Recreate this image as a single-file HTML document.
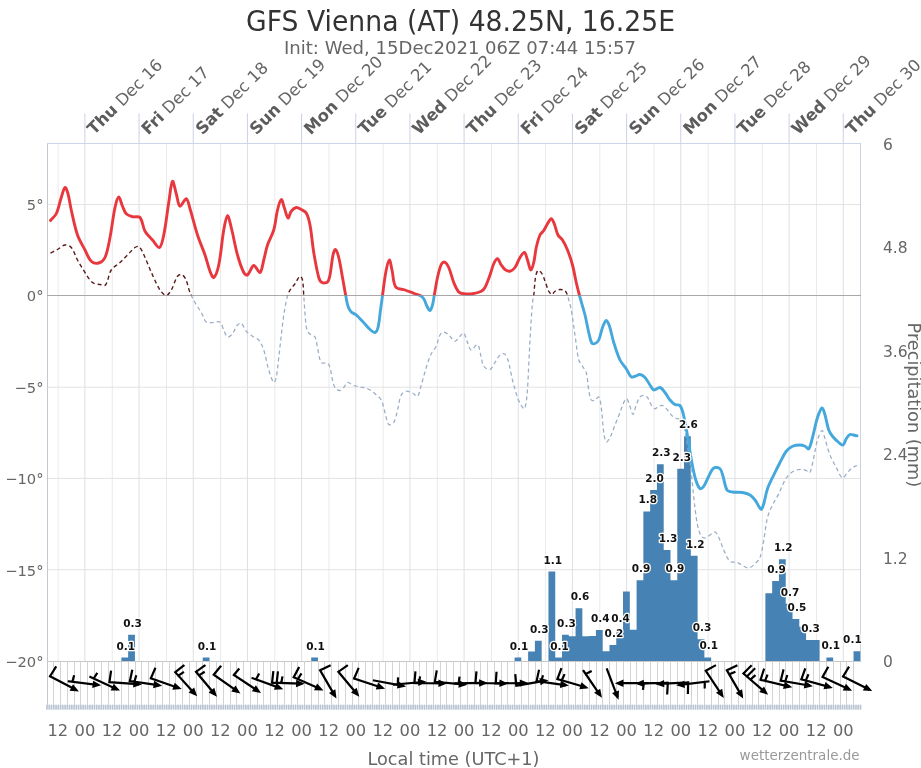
<!DOCTYPE html>
<html lang="en"><head><meta charset="utf-8"><title>GFS Vienna (AT) 48.25N, 16.25E</title>
<style>html,body{margin:0;padding:0;background:#fff}svg{display:block}text{font-family:"DejaVu Sans", "Liberation Sans", sans-serif}</style></head><body>
<svg width="921" height="768" viewBox="0 0 921 768">
<rect width="921" height="768" fill="#fff"/>
<defs><clipPath id="up"><rect x="0" y="0" width="921" height="295.50"/></clipPath><clipPath id="dn"><rect x="0" y="295.50" width="921" height="472.50"/></clipPath></defs>
<g><line x1="58.12" y1="143.5" x2="58.12" y2="661.0" stroke="#eaeaea"/><line x1="84.90" y1="143.5" x2="84.90" y2="661.0" stroke="#dcdfe5"/><line x1="84.90" y1="113.5" x2="84.90" y2="143.5" stroke="#c9d1e4"/><line x1="112.28" y1="143.5" x2="112.28" y2="661.0" stroke="#eaeaea"/><line x1="139.07" y1="143.5" x2="139.07" y2="661.0" stroke="#dcdfe5"/><line x1="139.07" y1="113.5" x2="139.07" y2="143.5" stroke="#c9d1e4"/><line x1="166.46" y1="143.5" x2="166.46" y2="661.0" stroke="#eaeaea"/><line x1="193.24" y1="143.5" x2="193.24" y2="661.0" stroke="#dcdfe5"/><line x1="193.24" y1="113.5" x2="193.24" y2="143.5" stroke="#c9d1e4"/><line x1="220.62" y1="143.5" x2="220.62" y2="661.0" stroke="#eaeaea"/><line x1="247.41" y1="143.5" x2="247.41" y2="661.0" stroke="#dcdfe5"/><line x1="247.41" y1="113.5" x2="247.41" y2="143.5" stroke="#c9d1e4"/><line x1="274.80" y1="143.5" x2="274.80" y2="661.0" stroke="#eaeaea"/><line x1="301.58" y1="143.5" x2="301.58" y2="661.0" stroke="#dcdfe5"/><line x1="301.58" y1="113.5" x2="301.58" y2="143.5" stroke="#c9d1e4"/><line x1="328.97" y1="143.5" x2="328.97" y2="661.0" stroke="#eaeaea"/><line x1="355.75" y1="143.5" x2="355.75" y2="661.0" stroke="#dcdfe5"/><line x1="355.75" y1="113.5" x2="355.75" y2="143.5" stroke="#c9d1e4"/><line x1="383.13" y1="143.5" x2="383.13" y2="661.0" stroke="#eaeaea"/><line x1="409.92" y1="143.5" x2="409.92" y2="661.0" stroke="#dcdfe5"/><line x1="409.92" y1="113.5" x2="409.92" y2="143.5" stroke="#c9d1e4"/><line x1="437.31" y1="143.5" x2="437.31" y2="661.0" stroke="#eaeaea"/><line x1="464.09" y1="143.5" x2="464.09" y2="661.0" stroke="#dcdfe5"/><line x1="464.09" y1="113.5" x2="464.09" y2="143.5" stroke="#c9d1e4"/><line x1="491.48" y1="143.5" x2="491.48" y2="661.0" stroke="#eaeaea"/><line x1="518.26" y1="143.5" x2="518.26" y2="661.0" stroke="#dcdfe5"/><line x1="518.26" y1="113.5" x2="518.26" y2="143.5" stroke="#c9d1e4"/><line x1="545.64" y1="143.5" x2="545.64" y2="661.0" stroke="#eaeaea"/><line x1="572.43" y1="143.5" x2="572.43" y2="661.0" stroke="#dcdfe5"/><line x1="572.43" y1="113.5" x2="572.43" y2="143.5" stroke="#c9d1e4"/><line x1="599.81" y1="143.5" x2="599.81" y2="661.0" stroke="#eaeaea"/><line x1="626.60" y1="143.5" x2="626.60" y2="661.0" stroke="#dcdfe5"/><line x1="626.60" y1="113.5" x2="626.60" y2="143.5" stroke="#c9d1e4"/><line x1="653.98" y1="143.5" x2="653.98" y2="661.0" stroke="#eaeaea"/><line x1="680.77" y1="143.5" x2="680.77" y2="661.0" stroke="#dcdfe5"/><line x1="680.77" y1="113.5" x2="680.77" y2="143.5" stroke="#c9d1e4"/><line x1="708.15" y1="143.5" x2="708.15" y2="661.0" stroke="#eaeaea"/><line x1="734.94" y1="143.5" x2="734.94" y2="661.0" stroke="#dcdfe5"/><line x1="734.94" y1="113.5" x2="734.94" y2="143.5" stroke="#c9d1e4"/><line x1="762.32" y1="143.5" x2="762.32" y2="661.0" stroke="#eaeaea"/><line x1="789.11" y1="143.5" x2="789.11" y2="661.0" stroke="#dcdfe5"/><line x1="789.11" y1="113.5" x2="789.11" y2="143.5" stroke="#c9d1e4"/><line x1="816.49" y1="143.5" x2="816.49" y2="661.0" stroke="#eaeaea"/><line x1="843.28" y1="143.5" x2="843.28" y2="661.0" stroke="#dcdfe5"/><line x1="843.28" y1="113.5" x2="843.28" y2="143.5" stroke="#c9d1e4"/><line x1="47.0" y1="204.60" x2="860.5" y2="204.60" stroke="#e2e2e2"/><line x1="47.0" y1="387.20" x2="860.5" y2="387.20" stroke="#e2e2e2"/><line x1="47.0" y1="478.40" x2="860.5" y2="478.40" stroke="#e2e2e2"/><line x1="47.0" y1="569.70" x2="860.5" y2="569.70" stroke="#e2e2e2"/></g>
<g shape-rendering="crispEdges"><line x1="53.5" y1="661.0" x2="53.5" y2="704.5" stroke="#d4d4d4"/><line x1="60.5" y1="661.0" x2="60.5" y2="704.5" stroke="#d4d4d4"/><line x1="67.5" y1="661.0" x2="67.5" y2="704.5" stroke="#d4d4d4"/><line x1="74.5" y1="661.0" x2="74.5" y2="704.5" stroke="#d4d4d4"/><line x1="80.5" y1="661.0" x2="80.5" y2="704.5" stroke="#d4d4d4"/><line x1="87.5" y1="661.0" x2="87.5" y2="704.5" stroke="#d4d4d4"/><line x1="94.5" y1="661.0" x2="94.5" y2="704.5" stroke="#d4d4d4"/><line x1="101.5" y1="661.0" x2="101.5" y2="704.5" stroke="#d4d4d4"/><line x1="108.5" y1="661.0" x2="108.5" y2="704.5" stroke="#d4d4d4"/><line x1="114.5" y1="661.0" x2="114.5" y2="704.5" stroke="#d4d4d4"/><line x1="121.5" y1="661.0" x2="121.5" y2="704.5" stroke="#d4d4d4"/><line x1="128.5" y1="661.0" x2="128.5" y2="704.5" stroke="#d4d4d4"/><line x1="135.5" y1="661.0" x2="135.5" y2="704.5" stroke="#d4d4d4"/><line x1="141.5" y1="661.0" x2="141.5" y2="704.5" stroke="#d4d4d4"/><line x1="148.5" y1="661.0" x2="148.5" y2="704.5" stroke="#d4d4d4"/><line x1="155.5" y1="661.0" x2="155.5" y2="704.5" stroke="#d4d4d4"/><line x1="162.5" y1="661.0" x2="162.5" y2="704.5" stroke="#d4d4d4"/><line x1="169.5" y1="661.0" x2="169.5" y2="704.5" stroke="#d4d4d4"/><line x1="175.5" y1="661.0" x2="175.5" y2="704.5" stroke="#d4d4d4"/><line x1="182.5" y1="661.0" x2="182.5" y2="704.5" stroke="#d4d4d4"/><line x1="189.5" y1="661.0" x2="189.5" y2="704.5" stroke="#d4d4d4"/><line x1="196.5" y1="661.0" x2="196.5" y2="704.5" stroke="#d4d4d4"/><line x1="202.5" y1="661.0" x2="202.5" y2="704.5" stroke="#d4d4d4"/><line x1="209.5" y1="661.0" x2="209.5" y2="704.5" stroke="#d4d4d4"/><line x1="216.5" y1="661.0" x2="216.5" y2="704.5" stroke="#d4d4d4"/><line x1="223.5" y1="661.0" x2="223.5" y2="704.5" stroke="#d4d4d4"/><line x1="230.5" y1="661.0" x2="230.5" y2="704.5" stroke="#d4d4d4"/><line x1="236.5" y1="661.0" x2="236.5" y2="704.5" stroke="#d4d4d4"/><line x1="243.5" y1="661.0" x2="243.5" y2="704.5" stroke="#d4d4d4"/><line x1="250.5" y1="661.0" x2="250.5" y2="704.5" stroke="#d4d4d4"/><line x1="257.5" y1="661.0" x2="257.5" y2="704.5" stroke="#d4d4d4"/><line x1="263.5" y1="661.0" x2="263.5" y2="704.5" stroke="#d4d4d4"/><line x1="270.5" y1="661.0" x2="270.5" y2="704.5" stroke="#d4d4d4"/><line x1="277.5" y1="661.0" x2="277.5" y2="704.5" stroke="#d4d4d4"/><line x1="284.5" y1="661.0" x2="284.5" y2="704.5" stroke="#d4d4d4"/><line x1="291.5" y1="661.0" x2="291.5" y2="704.5" stroke="#d4d4d4"/><line x1="297.5" y1="661.0" x2="297.5" y2="704.5" stroke="#d4d4d4"/><line x1="304.5" y1="661.0" x2="304.5" y2="704.5" stroke="#d4d4d4"/><line x1="311.5" y1="661.0" x2="311.5" y2="704.5" stroke="#d4d4d4"/><line x1="318.5" y1="661.0" x2="318.5" y2="704.5" stroke="#d4d4d4"/><line x1="324.5" y1="661.0" x2="324.5" y2="704.5" stroke="#d4d4d4"/><line x1="331.5" y1="661.0" x2="331.5" y2="704.5" stroke="#d4d4d4"/><line x1="338.5" y1="661.0" x2="338.5" y2="704.5" stroke="#d4d4d4"/><line x1="345.5" y1="661.0" x2="345.5" y2="704.5" stroke="#d4d4d4"/><line x1="352.5" y1="661.0" x2="352.5" y2="704.5" stroke="#d4d4d4"/><line x1="358.5" y1="661.0" x2="358.5" y2="704.5" stroke="#d4d4d4"/><line x1="365.5" y1="661.0" x2="365.5" y2="704.5" stroke="#d4d4d4"/><line x1="372.5" y1="661.0" x2="372.5" y2="704.5" stroke="#d4d4d4"/><line x1="379.5" y1="661.0" x2="379.5" y2="704.5" stroke="#d4d4d4"/><line x1="385.5" y1="661.0" x2="385.5" y2="704.5" stroke="#d4d4d4"/><line x1="392.5" y1="661.0" x2="392.5" y2="704.5" stroke="#d4d4d4"/><line x1="399.5" y1="661.0" x2="399.5" y2="704.5" stroke="#d4d4d4"/><line x1="406.5" y1="661.0" x2="406.5" y2="704.5" stroke="#d4d4d4"/><line x1="413.5" y1="661.0" x2="413.5" y2="704.5" stroke="#d4d4d4"/><line x1="419.5" y1="661.0" x2="419.5" y2="704.5" stroke="#d4d4d4"/><line x1="426.5" y1="661.0" x2="426.5" y2="704.5" stroke="#d4d4d4"/><line x1="433.5" y1="661.0" x2="433.5" y2="704.5" stroke="#d4d4d4"/><line x1="440.5" y1="661.0" x2="440.5" y2="704.5" stroke="#d4d4d4"/><line x1="446.5" y1="661.0" x2="446.5" y2="704.5" stroke="#d4d4d4"/><line x1="453.5" y1="661.0" x2="453.5" y2="704.5" stroke="#d4d4d4"/><line x1="460.5" y1="661.0" x2="460.5" y2="704.5" stroke="#d4d4d4"/><line x1="467.5" y1="661.0" x2="467.5" y2="704.5" stroke="#d4d4d4"/><line x1="474.5" y1="661.0" x2="474.5" y2="704.5" stroke="#d4d4d4"/><line x1="480.5" y1="661.0" x2="480.5" y2="704.5" stroke="#d4d4d4"/><line x1="487.5" y1="661.0" x2="487.5" y2="704.5" stroke="#d4d4d4"/><line x1="494.5" y1="661.0" x2="494.5" y2="704.5" stroke="#d4d4d4"/><line x1="501.5" y1="661.0" x2="501.5" y2="704.5" stroke="#d4d4d4"/><line x1="507.5" y1="661.0" x2="507.5" y2="704.5" stroke="#d4d4d4"/><line x1="514.5" y1="661.0" x2="514.5" y2="704.5" stroke="#d4d4d4"/><line x1="521.5" y1="661.0" x2="521.5" y2="704.5" stroke="#d4d4d4"/><line x1="528.5" y1="661.0" x2="528.5" y2="704.5" stroke="#d4d4d4"/><line x1="535.5" y1="661.0" x2="535.5" y2="704.5" stroke="#d4d4d4"/><line x1="541.5" y1="661.0" x2="541.5" y2="704.5" stroke="#d4d4d4"/><line x1="548.5" y1="661.0" x2="548.5" y2="704.5" stroke="#d4d4d4"/><line x1="555.5" y1="661.0" x2="555.5" y2="704.5" stroke="#d4d4d4"/><line x1="562.5" y1="661.0" x2="562.5" y2="704.5" stroke="#d4d4d4"/><line x1="568.5" y1="661.0" x2="568.5" y2="704.5" stroke="#d4d4d4"/><line x1="575.5" y1="661.0" x2="575.5" y2="704.5" stroke="#d4d4d4"/><line x1="582.5" y1="661.0" x2="582.5" y2="704.5" stroke="#d4d4d4"/><line x1="589.5" y1="661.0" x2="589.5" y2="704.5" stroke="#d4d4d4"/><line x1="596.5" y1="661.0" x2="596.5" y2="704.5" stroke="#d4d4d4"/><line x1="602.5" y1="661.0" x2="602.5" y2="704.5" stroke="#d4d4d4"/><line x1="609.5" y1="661.0" x2="609.5" y2="704.5" stroke="#d4d4d4"/><line x1="616.5" y1="661.0" x2="616.5" y2="704.5" stroke="#d4d4d4"/><line x1="623.5" y1="661.0" x2="623.5" y2="704.5" stroke="#d4d4d4"/><line x1="630.5" y1="661.0" x2="630.5" y2="704.5" stroke="#d4d4d4"/><line x1="636.5" y1="661.0" x2="636.5" y2="704.5" stroke="#d4d4d4"/><line x1="643.5" y1="661.0" x2="643.5" y2="704.5" stroke="#d4d4d4"/><line x1="650.5" y1="661.0" x2="650.5" y2="704.5" stroke="#d4d4d4"/><line x1="657.5" y1="661.0" x2="657.5" y2="704.5" stroke="#d4d4d4"/><line x1="663.5" y1="661.0" x2="663.5" y2="704.5" stroke="#d4d4d4"/><line x1="670.5" y1="661.0" x2="670.5" y2="704.5" stroke="#d4d4d4"/><line x1="677.5" y1="661.0" x2="677.5" y2="704.5" stroke="#d4d4d4"/><line x1="684.5" y1="661.0" x2="684.5" y2="704.5" stroke="#d4d4d4"/><line x1="691.5" y1="661.0" x2="691.5" y2="704.5" stroke="#d4d4d4"/><line x1="697.5" y1="661.0" x2="697.5" y2="704.5" stroke="#d4d4d4"/><line x1="704.5" y1="661.0" x2="704.5" y2="704.5" stroke="#d4d4d4"/><line x1="711.5" y1="661.0" x2="711.5" y2="704.5" stroke="#d4d4d4"/><line x1="718.5" y1="661.0" x2="718.5" y2="704.5" stroke="#d4d4d4"/><line x1="724.5" y1="661.0" x2="724.5" y2="704.5" stroke="#d4d4d4"/><line x1="731.5" y1="661.0" x2="731.5" y2="704.5" stroke="#d4d4d4"/><line x1="738.5" y1="661.0" x2="738.5" y2="704.5" stroke="#d4d4d4"/><line x1="745.5" y1="661.0" x2="745.5" y2="704.5" stroke="#d4d4d4"/><line x1="752.5" y1="661.0" x2="752.5" y2="704.5" stroke="#d4d4d4"/><line x1="758.5" y1="661.0" x2="758.5" y2="704.5" stroke="#d4d4d4"/><line x1="765.5" y1="661.0" x2="765.5" y2="704.5" stroke="#d4d4d4"/><line x1="772.5" y1="661.0" x2="772.5" y2="704.5" stroke="#d4d4d4"/><line x1="779.5" y1="661.0" x2="779.5" y2="704.5" stroke="#d4d4d4"/><line x1="785.5" y1="661.0" x2="785.5" y2="704.5" stroke="#d4d4d4"/><line x1="792.5" y1="661.0" x2="792.5" y2="704.5" stroke="#d4d4d4"/><line x1="799.5" y1="661.0" x2="799.5" y2="704.5" stroke="#d4d4d4"/><line x1="806.5" y1="661.0" x2="806.5" y2="704.5" stroke="#d4d4d4"/><line x1="813.5" y1="661.0" x2="813.5" y2="704.5" stroke="#d4d4d4"/><line x1="819.5" y1="661.0" x2="819.5" y2="704.5" stroke="#d4d4d4"/><line x1="826.5" y1="661.0" x2="826.5" y2="704.5" stroke="#d4d4d4"/><line x1="833.5" y1="661.0" x2="833.5" y2="704.5" stroke="#d4d4d4"/><line x1="840.5" y1="661.0" x2="840.5" y2="704.5" stroke="#d4d4d4"/><line x1="846.5" y1="661.0" x2="846.5" y2="704.5" stroke="#d4d4d4"/><line x1="853.5" y1="661.0" x2="853.5" y2="704.5" stroke="#d4d4d4"/></g>
<path d="M47.00,705.3v3.7M49.26,705.3v3.7M51.52,705.3v3.7M53.78,705.3v3.7M56.04,705.3v3.7M58.30,705.3v3.7M60.56,705.3v3.7M62.82,705.3v3.7M65.08,705.3v3.7M67.34,705.3v3.7M69.60,705.3v3.7M71.86,705.3v3.7M74.12,705.3v3.7M76.38,705.3v3.7M78.64,705.3v3.7M80.90,705.3v3.7M83.16,705.3v3.7M85.42,705.3v3.7M87.68,705.3v3.7M89.93,705.3v3.7M92.19,705.3v3.7M94.45,705.3v3.7M96.71,705.3v3.7M98.97,705.3v3.7M101.23,705.3v3.7M103.49,705.3v3.7M105.75,705.3v3.7M108.01,705.3v3.7M110.27,705.3v3.7M112.53,705.3v3.7M114.79,705.3v3.7M117.05,705.3v3.7M119.31,705.3v3.7M121.57,705.3v3.7M123.83,705.3v3.7M126.09,705.3v3.7M128.35,705.3v3.7M130.61,705.3v3.7M132.87,705.3v3.7M135.13,705.3v3.7M137.39,705.3v3.7M139.65,705.3v3.7M141.91,705.3v3.7M144.17,705.3v3.7M146.43,705.3v3.7M148.69,705.3v3.7M150.95,705.3v3.7M153.21,705.3v3.7M155.47,705.3v3.7M157.73,705.3v3.7M159.99,705.3v3.7M162.25,705.3v3.7M164.51,705.3v3.7M166.77,705.3v3.7M169.03,705.3v3.7M171.28,705.3v3.7M173.54,705.3v3.7M175.80,705.3v3.7M178.06,705.3v3.7M180.32,705.3v3.7M182.58,705.3v3.7M184.84,705.3v3.7M187.10,705.3v3.7M189.36,705.3v3.7M191.62,705.3v3.7M193.88,705.3v3.7M196.14,705.3v3.7M198.40,705.3v3.7M200.66,705.3v3.7M202.92,705.3v3.7M205.18,705.3v3.7M207.44,705.3v3.7M209.70,705.3v3.7M211.96,705.3v3.7M214.22,705.3v3.7M216.48,705.3v3.7M218.74,705.3v3.7M221.00,705.3v3.7M223.26,705.3v3.7M225.52,705.3v3.7M227.78,705.3v3.7M230.04,705.3v3.7M232.30,705.3v3.7M234.56,705.3v3.7M236.82,705.3v3.7M239.08,705.3v3.7M241.34,705.3v3.7M243.60,705.3v3.7M245.86,705.3v3.7M248.12,705.3v3.7M250.38,705.3v3.7M252.63,705.3v3.7M254.89,705.3v3.7M257.15,705.3v3.7M259.41,705.3v3.7M261.67,705.3v3.7M263.93,705.3v3.7M266.19,705.3v3.7M268.45,705.3v3.7M270.71,705.3v3.7M272.97,705.3v3.7M275.23,705.3v3.7M277.49,705.3v3.7M279.75,705.3v3.7M282.01,705.3v3.7M284.27,705.3v3.7M286.53,705.3v3.7M288.79,705.3v3.7M291.05,705.3v3.7M293.31,705.3v3.7M295.57,705.3v3.7M297.83,705.3v3.7M300.09,705.3v3.7M302.35,705.3v3.7M304.61,705.3v3.7M306.87,705.3v3.7M309.13,705.3v3.7M311.39,705.3v3.7M313.65,705.3v3.7M315.91,705.3v3.7M318.17,705.3v3.7M320.43,705.3v3.7M322.69,705.3v3.7M324.95,705.3v3.7M327.21,705.3v3.7M329.47,705.3v3.7M331.73,705.3v3.7M333.98,705.3v3.7M336.24,705.3v3.7M338.50,705.3v3.7M340.76,705.3v3.7M343.02,705.3v3.7M345.28,705.3v3.7M347.54,705.3v3.7M349.80,705.3v3.7M352.06,705.3v3.7M354.32,705.3v3.7M356.58,705.3v3.7M358.84,705.3v3.7M361.10,705.3v3.7M363.36,705.3v3.7M365.62,705.3v3.7M367.88,705.3v3.7M370.14,705.3v3.7M372.40,705.3v3.7M374.66,705.3v3.7M376.92,705.3v3.7M379.18,705.3v3.7M381.44,705.3v3.7M383.70,705.3v3.7M385.96,705.3v3.7M388.22,705.3v3.7M390.48,705.3v3.7M392.74,705.3v3.7M395.00,705.3v3.7M397.26,705.3v3.7M399.52,705.3v3.7M401.78,705.3v3.7M404.04,705.3v3.7M406.30,705.3v3.7M408.56,705.3v3.7M410.82,705.3v3.7M413.08,705.3v3.7M415.33,705.3v3.7M417.59,705.3v3.7M419.85,705.3v3.7M422.11,705.3v3.7M424.37,705.3v3.7M426.63,705.3v3.7M428.89,705.3v3.7M431.15,705.3v3.7M433.41,705.3v3.7M435.67,705.3v3.7M437.93,705.3v3.7M440.19,705.3v3.7M442.45,705.3v3.7M444.71,705.3v3.7M446.97,705.3v3.7M449.23,705.3v3.7M451.49,705.3v3.7M453.75,705.3v3.7M456.01,705.3v3.7M458.27,705.3v3.7M460.53,705.3v3.7M462.79,705.3v3.7M465.05,705.3v3.7M467.31,705.3v3.7M469.57,705.3v3.7M471.83,705.3v3.7M474.09,705.3v3.7M476.35,705.3v3.7M478.61,705.3v3.7M480.87,705.3v3.7M483.13,705.3v3.7M485.39,705.3v3.7M487.65,705.3v3.7M489.91,705.3v3.7M492.17,705.3v3.7M494.43,705.3v3.7M496.68,705.3v3.7M498.94,705.3v3.7M501.20,705.3v3.7M503.46,705.3v3.7M505.72,705.3v3.7M507.98,705.3v3.7M510.24,705.3v3.7M512.50,705.3v3.7M514.76,705.3v3.7M517.02,705.3v3.7M519.28,705.3v3.7M521.54,705.3v3.7M523.80,705.3v3.7M526.06,705.3v3.7M528.32,705.3v3.7M530.58,705.3v3.7M532.84,705.3v3.7M535.10,705.3v3.7M537.36,705.3v3.7M539.62,705.3v3.7M541.88,705.3v3.7M544.14,705.3v3.7M546.40,705.3v3.7M548.66,705.3v3.7M550.92,705.3v3.7M553.18,705.3v3.7M555.44,705.3v3.7M557.70,705.3v3.7M559.96,705.3v3.7M562.22,705.3v3.7M564.48,705.3v3.7M566.74,705.3v3.7M569.00,705.3v3.7M571.26,705.3v3.7M573.52,705.3v3.7M575.78,705.3v3.7M578.03,705.3v3.7M580.29,705.3v3.7M582.55,705.3v3.7M584.81,705.3v3.7M587.07,705.3v3.7M589.33,705.3v3.7M591.59,705.3v3.7M593.85,705.3v3.7M596.11,705.3v3.7M598.37,705.3v3.7M600.63,705.3v3.7M602.89,705.3v3.7M605.15,705.3v3.7M607.41,705.3v3.7M609.67,705.3v3.7M611.93,705.3v3.7M614.19,705.3v3.7M616.45,705.3v3.7M618.71,705.3v3.7M620.97,705.3v3.7M623.23,705.3v3.7M625.49,705.3v3.7M627.75,705.3v3.7M630.01,705.3v3.7M632.27,705.3v3.7M634.53,705.3v3.7M636.79,705.3v3.7M639.05,705.3v3.7M641.31,705.3v3.7M643.57,705.3v3.7M645.83,705.3v3.7M648.09,705.3v3.7M650.35,705.3v3.7M652.61,705.3v3.7M654.87,705.3v3.7M657.12,705.3v3.7M659.38,705.3v3.7M661.64,705.3v3.7M663.90,705.3v3.7M666.16,705.3v3.7M668.42,705.3v3.7M670.68,705.3v3.7M672.94,705.3v3.7M675.20,705.3v3.7M677.46,705.3v3.7M679.72,705.3v3.7M681.98,705.3v3.7M684.24,705.3v3.7M686.50,705.3v3.7M688.76,705.3v3.7M691.02,705.3v3.7M693.28,705.3v3.7M695.54,705.3v3.7M697.80,705.3v3.7M700.06,705.3v3.7M702.32,705.3v3.7M704.58,705.3v3.7M706.84,705.3v3.7M709.10,705.3v3.7M711.36,705.3v3.7M713.62,705.3v3.7M715.88,705.3v3.7M718.14,705.3v3.7M720.40,705.3v3.7M722.66,705.3v3.7M724.92,705.3v3.7M727.18,705.3v3.7M729.44,705.3v3.7M731.70,705.3v3.7M733.96,705.3v3.7M736.22,705.3v3.7M738.48,705.3v3.7M740.73,705.3v3.7M742.99,705.3v3.7M745.25,705.3v3.7M747.51,705.3v3.7M749.77,705.3v3.7M752.03,705.3v3.7M754.29,705.3v3.7M756.55,705.3v3.7M758.81,705.3v3.7M761.07,705.3v3.7M763.33,705.3v3.7M765.59,705.3v3.7M767.85,705.3v3.7M770.11,705.3v3.7M772.37,705.3v3.7M774.63,705.3v3.7M776.89,705.3v3.7M779.15,705.3v3.7M781.41,705.3v3.7M783.67,705.3v3.7M785.93,705.3v3.7M788.19,705.3v3.7M790.45,705.3v3.7M792.71,705.3v3.7M794.97,705.3v3.7M797.23,705.3v3.7M799.49,705.3v3.7M801.75,705.3v3.7M804.01,705.3v3.7M806.27,705.3v3.7M808.53,705.3v3.7M810.79,705.3v3.7M813.05,705.3v3.7M815.31,705.3v3.7M817.57,705.3v3.7M819.83,705.3v3.7M822.08,705.3v3.7M824.34,705.3v3.7M826.60,705.3v3.7M828.86,705.3v3.7M831.12,705.3v3.7M833.38,705.3v3.7M835.64,705.3v3.7M837.90,705.3v3.7M840.16,705.3v3.7M842.42,705.3v3.7M844.68,705.3v3.7M846.94,705.3v3.7M849.20,705.3v3.7M851.46,705.3v3.7M853.72,705.3v3.7M855.98,705.3v3.7M858.24,705.3v3.7M860.50,705.3v3.7" stroke="#bac5d3" stroke-width="1.7" stroke-linecap="round" fill="none"/>
<g shape-rendering="crispEdges" fill="none">
<line x1="47.0" y1="143.5" x2="860.5" y2="143.5" stroke="#ccd6eb"/>
<line x1="47.0" y1="661.0" x2="860.5" y2="661.0" stroke="#c8c8c8"/>
<line x1="47.5" y1="143.5" x2="47.5" y2="704.5" stroke="#c4c8d0"/>
<line x1="860.5" y1="143.5" x2="860.5" y2="661.0" stroke="#ccd2dc"/>
<line x1="47.0" y1="295.5" x2="860.5" y2="295.5" stroke="#a8a8a8"/>
</g>
<path d="M121.37,661.0V657.60H128.15V634.75H134.93V661.0ZM202.72,661.0V657.60H209.50V661.0ZM311.19,661.0V657.60H317.97V661.0ZM514.56,661.0V657.60H521.34V661.0ZM528.12,661.0V651.60H534.90V640.70H541.68V661.0ZM548.46,661.0V571.60H555.24V657.60H562.02V634.80H568.80V636.30H575.57V608.30H582.35V636.30H589.13V636.10H595.91V630.10H602.69V651.30H609.47V645.10H616.25V630.10H623.03V591.50H629.81V629.80H636.59V580.30H643.37V511.50H650.15V490.00H656.92V464.20H663.70V550.00H670.48V580.30H677.26V468.75H684.04V436.20H690.82V555.75H697.60V639.25H704.38V657.50H711.16V661.0ZM765.39,661.0V593.20H772.17V580.90H778.95V559.20H785.73V603.70H792.51V619.10H799.29V626.80H806.07V640.00H812.85V640.00H819.62V661.0ZM826.40,661.0V657.50H833.18V661.0ZM853.52,661.0V651.20H860.30V661.0Z" fill="#4682b4"/>
<path d="M50.50,253.00C52.83,251.83 55.22,250.76 57.50,249.50C60.05,248.09 62.41,245.38 65.00,245.00C66.99,244.71 69.90,245.87 71.25,247.50C74.06,250.87 75.26,255.92 77.50,260.00C79.84,264.25 82.31,268.46 85.00,272.50C87.31,275.96 89.42,280.03 92.50,282.50C94.42,284.03 97.47,284.01 100.00,284.50C101.80,284.85 104.54,286.24 105.50,285.00C108.29,281.40 108.44,274.37 111.25,270.00C113.27,266.87 117.18,265.10 120.00,262.50C122.60,260.10 125.00,257.50 127.50,255.00C130.00,252.50 132.22,249.45 135.00,247.50C136.13,246.70 138.38,245.88 139.25,246.75C141.71,249.21 143.28,253.82 145.00,257.50C147.69,263.24 149.84,269.24 152.50,275.00C154.84,280.07 156.94,285.43 160.00,290.00C161.52,292.27 164.27,295.50 166.25,295.50C168.02,295.50 170.01,292.12 171.25,290.00C173.76,285.70 174.88,280.31 177.50,276.25C178.22,275.14 180.16,274.16 181.25,274.50C182.83,274.99 184.64,276.99 185.50,278.75C187.56,282.99 188.21,288.03 190.00,292.50C191.38,295.95 193.17,299.26 195.00,302.50C196.92,305.92 199.29,309.10 201.25,312.50C203.04,315.60 203.88,319.90 206.25,322.00C207.63,323.23 210.42,322.50 212.50,322.50C215.00,322.50 218.28,320.85 220.00,322.00C222.03,323.35 222.43,327.37 223.75,330.00C224.93,332.37 225.83,336.29 227.50,337.00C228.75,337.54 231.26,335.24 232.50,333.75C234.59,331.24 235.43,327.48 237.50,325.00C238.35,323.98 240.36,322.61 241.25,323.25C243.28,324.70 244.22,328.91 246.25,331.25C247.97,333.24 250.32,334.72 252.50,336.25C254.49,337.64 257.27,338.19 258.75,340.00C261.02,342.77 262.58,346.48 263.75,350.00C265.91,356.48 266.73,363.45 268.75,370.00C270.07,374.28 271.98,380.73 273.75,382.50C274.48,383.23 275.89,379.31 276.25,377.50C277.55,370.98 277.96,364.17 278.75,357.50C280.04,346.67 281.15,335.82 282.50,325.00C283.23,319.15 283.89,313.28 285.00,307.50C285.97,302.45 286.78,297.17 288.75,292.50C290.12,289.25 292.96,286.70 295.00,283.75C296.71,281.28 298.33,277.08 300.00,276.25C300.83,275.83 302.22,278.56 302.50,280.00C303.47,284.97 303.35,290.33 303.75,295.50C304.44,304.50 304.81,313.54 305.75,322.50C306.06,325.45 306.35,328.64 307.50,331.25C308.18,332.80 309.86,333.94 311.25,335.00C312.36,335.85 314.41,335.82 315.00,337.00C316.49,339.99 316.64,344.01 317.50,347.50C318.73,352.51 318.88,358.77 321.25,362.50C322.21,364.02 325.86,362.32 327.50,363.25C328.78,363.98 329.54,365.94 330.00,367.50C331.20,371.53 331.47,375.89 332.50,380.00C333.14,382.55 333.61,385.42 335.00,387.50C335.95,388.92 338.01,390.50 339.50,390.50C340.93,390.50 342.54,388.71 343.75,387.50C345.21,386.04 345.92,382.82 347.50,382.50C349.25,382.15 351.59,384.72 353.75,385.50C355.75,386.22 357.91,386.51 360.00,387.00C362.50,387.59 365.20,387.71 367.50,388.75C370.20,389.96 372.69,391.86 375.00,393.75C377.27,395.61 379.90,397.48 381.25,400.00C383.24,403.73 383.73,408.34 385.00,412.50C386.23,416.51 386.71,422.17 388.75,424.50C389.62,425.50 392.90,423.91 393.75,422.50C395.81,419.08 396.36,414.20 397.50,410.00C398.86,405.03 399.17,399.45 401.25,395.00C402.09,393.20 404.41,391.58 406.25,391.25C408.16,390.91 410.55,392.13 412.50,393.00C414.30,393.80 416.52,397.14 417.50,396.25C419.44,394.48 420.10,388.78 421.25,385.00C423.02,379.20 424.40,373.27 426.25,367.50C427.74,362.86 429.19,358.13 431.25,353.75C432.52,351.05 434.99,348.95 436.25,346.25C437.91,342.70 438.22,338.38 440.00,335.00C440.72,333.63 442.43,332.00 443.75,332.00C445.35,332.00 447.26,333.77 448.75,335.00C451.01,336.86 452.92,341.02 455.00,341.25C456.67,341.44 458.29,337.87 460.00,336.25C461.20,335.12 462.93,332.32 463.75,333.00C465.43,334.40 466.13,339.39 467.50,342.50C468.63,345.05 469.58,349.67 471.25,350.00C472.91,350.33 476.23,343.55 477.50,344.50C479.56,346.05 480.00,353.17 481.25,357.50C482.09,360.42 482.11,364.00 483.75,366.25C485.02,368.00 488.31,370.06 490.00,369.50C492.06,368.81 493.37,364.86 495.00,362.50C496.71,360.03 497.93,356.96 500.00,355.00C501.02,354.04 503.24,353.12 504.25,353.75C505.91,354.79 507.28,357.70 508.00,360.00C510.03,366.45 510.82,373.38 512.50,380.00C513.99,385.88 515.54,391.78 517.50,397.50C518.45,400.28 519.72,403.03 521.25,405.50C522.05,406.78 524.03,409.62 524.50,408.75C525.94,406.12 526.55,399.63 527.00,395.00C527.97,385.05 528.20,375.00 528.75,365.00C529.20,356.67 529.50,348.33 530.00,340.00C530.75,327.50 531.45,314.97 532.50,302.50C532.70,300.14 533.47,297.85 533.75,295.50C534.47,289.52 534.50,283.41 535.50,277.50C535.91,275.07 536.72,271.24 538.00,270.50C538.89,269.99 541.12,272.34 542.00,273.75C543.62,276.34 544.37,279.57 545.50,282.50C546.62,285.40 547.30,288.57 548.75,291.25C549.46,292.57 550.94,294.50 552.00,294.50C553.02,294.50 553.79,292.01 555.00,291.25C556.45,290.34 558.31,289.58 560.00,289.50C561.64,289.42 563.78,289.77 565.00,290.75C566.28,291.77 566.95,293.81 567.50,295.50C569.03,300.22 570.32,305.10 571.25,310.00C572.82,318.27 573.75,326.67 575.00,335.00C576.25,343.33 576.81,351.91 578.75,360.00C579.31,362.33 581.25,364.17 582.50,366.25C583.75,368.33 585.64,370.19 586.25,372.50C587.73,378.11 587.70,384.21 588.75,390.00C589.36,393.38 589.72,397.56 591.25,400.00C591.81,400.89 593.90,400.44 595.00,400.00C596.40,399.44 598.11,396.23 598.75,397.00C600.19,398.73 600.75,403.94 601.25,407.50C602.42,415.78 602.55,424.23 603.75,432.50C604.22,435.73 604.94,440.96 606.25,442.00C607.03,442.62 609.12,439.22 610.00,437.50C612.03,433.55 613.33,429.17 615.00,425.00C616.67,420.83 618.37,416.68 620.00,412.50C621.29,409.18 622.20,405.66 623.75,402.50C624.45,401.08 625.96,398.41 626.75,398.75C627.88,399.24 628.65,402.89 629.50,405.00C630.73,408.06 631.87,414.25 633.00,414.25C634.12,414.25 635.02,408.02 636.25,405.00C637.36,402.27 638.28,399.17 640.00,397.00C640.78,396.01 642.53,395.42 643.75,395.50C645.03,395.59 646.66,396.43 647.50,397.50C649.16,399.60 649.72,402.70 651.25,405.00C652.22,406.45 653.65,408.52 655.00,408.75C656.15,408.94 657.40,406.84 658.75,406.25C659.90,405.75 661.44,405.05 662.50,405.50C664.36,406.30 665.98,408.36 667.50,410.00C669.31,411.95 670.54,414.53 672.50,416.25C673.87,417.45 675.77,418.11 677.50,418.75C678.68,419.19 680.44,418.69 681.25,419.50C682.53,420.78 683.27,423.05 683.75,425.00C685.36,431.55 686.43,438.30 687.50,445.00C688.93,453.97 690.18,462.98 691.25,472.00C692.26,480.48 692.75,489.02 693.75,497.50C694.83,506.69 695.75,515.95 697.50,525.00C698.25,528.87 699.40,533.04 701.25,536.25C701.90,537.37 703.79,538.17 705.00,538.00C706.71,537.76 708.33,536.00 710.00,535.00C711.67,534.00 713.64,531.61 715.00,532.00C716.55,532.44 717.78,535.51 718.75,537.50C720.70,541.51 721.83,545.95 723.75,550.00C725.58,553.87 727.12,558.63 730.00,561.25C731.70,562.80 735.16,561.65 737.50,562.50C739.74,563.32 741.58,565.19 743.75,566.25C745.33,567.02 747.20,568.34 748.75,568.00C750.95,567.51 753.18,565.45 755.00,563.75C756.93,561.95 759.10,559.95 760.00,557.50C762.02,552.03 762.65,545.86 763.75,540.00C765.15,532.53 765.67,524.84 767.50,517.50C768.58,513.17 770.58,509.05 772.50,505.00C774.33,501.13 776.83,497.58 778.75,493.75C781.00,489.25 782.55,484.36 785.00,480.00C786.30,477.69 788.09,475.56 790.00,473.75C791.42,472.40 793.16,471.12 795.00,470.50C797.33,469.71 800.05,469.35 802.50,469.50C804.22,469.60 805.86,470.60 807.50,471.25C808.36,471.60 809.68,473.20 810.00,472.50C811.76,468.62 812.59,462.52 813.75,457.50C815.09,451.69 815.77,445.67 817.50,440.00C818.52,436.67 820.64,430.73 822.00,430.50C823.14,430.31 824.09,435.97 825.00,438.75C826.76,444.14 827.94,449.74 830.00,455.00C831.69,459.32 834.03,463.41 836.25,467.50C838.19,471.08 840.17,476.96 842.50,478.00C843.92,478.63 845.79,474.29 847.50,472.50C849.13,470.79 850.63,468.88 852.50,467.50C853.80,466.54 855.50,466.17 857.00,465.50" fill="none" stroke="#5a1a1a" stroke-width="1.4" stroke-dasharray="4,3" clip-path="url(#up)"/>
<path d="M50.50,253.00C52.83,251.83 55.22,250.76 57.50,249.50C60.05,248.09 62.41,245.38 65.00,245.00C66.99,244.71 69.90,245.87 71.25,247.50C74.06,250.87 75.26,255.92 77.50,260.00C79.84,264.25 82.31,268.46 85.00,272.50C87.31,275.96 89.42,280.03 92.50,282.50C94.42,284.03 97.47,284.01 100.00,284.50C101.80,284.85 104.54,286.24 105.50,285.00C108.29,281.40 108.44,274.37 111.25,270.00C113.27,266.87 117.18,265.10 120.00,262.50C122.60,260.10 125.00,257.50 127.50,255.00C130.00,252.50 132.22,249.45 135.00,247.50C136.13,246.70 138.38,245.88 139.25,246.75C141.71,249.21 143.28,253.82 145.00,257.50C147.69,263.24 149.84,269.24 152.50,275.00C154.84,280.07 156.94,285.43 160.00,290.00C161.52,292.27 164.27,295.50 166.25,295.50C168.02,295.50 170.01,292.12 171.25,290.00C173.76,285.70 174.88,280.31 177.50,276.25C178.22,275.14 180.16,274.16 181.25,274.50C182.83,274.99 184.64,276.99 185.50,278.75C187.56,282.99 188.21,288.03 190.00,292.50C191.38,295.95 193.17,299.26 195.00,302.50C196.92,305.92 199.29,309.10 201.25,312.50C203.04,315.60 203.88,319.90 206.25,322.00C207.63,323.23 210.42,322.50 212.50,322.50C215.00,322.50 218.28,320.85 220.00,322.00C222.03,323.35 222.43,327.37 223.75,330.00C224.93,332.37 225.83,336.29 227.50,337.00C228.75,337.54 231.26,335.24 232.50,333.75C234.59,331.24 235.43,327.48 237.50,325.00C238.35,323.98 240.36,322.61 241.25,323.25C243.28,324.70 244.22,328.91 246.25,331.25C247.97,333.24 250.32,334.72 252.50,336.25C254.49,337.64 257.27,338.19 258.75,340.00C261.02,342.77 262.58,346.48 263.75,350.00C265.91,356.48 266.73,363.45 268.75,370.00C270.07,374.28 271.98,380.73 273.75,382.50C274.48,383.23 275.89,379.31 276.25,377.50C277.55,370.98 277.96,364.17 278.75,357.50C280.04,346.67 281.15,335.82 282.50,325.00C283.23,319.15 283.89,313.28 285.00,307.50C285.97,302.45 286.78,297.17 288.75,292.50C290.12,289.25 292.96,286.70 295.00,283.75C296.71,281.28 298.33,277.08 300.00,276.25C300.83,275.83 302.22,278.56 302.50,280.00C303.47,284.97 303.35,290.33 303.75,295.50C304.44,304.50 304.81,313.54 305.75,322.50C306.06,325.45 306.35,328.64 307.50,331.25C308.18,332.80 309.86,333.94 311.25,335.00C312.36,335.85 314.41,335.82 315.00,337.00C316.49,339.99 316.64,344.01 317.50,347.50C318.73,352.51 318.88,358.77 321.25,362.50C322.21,364.02 325.86,362.32 327.50,363.25C328.78,363.98 329.54,365.94 330.00,367.50C331.20,371.53 331.47,375.89 332.50,380.00C333.14,382.55 333.61,385.42 335.00,387.50C335.95,388.92 338.01,390.50 339.50,390.50C340.93,390.50 342.54,388.71 343.75,387.50C345.21,386.04 345.92,382.82 347.50,382.50C349.25,382.15 351.59,384.72 353.75,385.50C355.75,386.22 357.91,386.51 360.00,387.00C362.50,387.59 365.20,387.71 367.50,388.75C370.20,389.96 372.69,391.86 375.00,393.75C377.27,395.61 379.90,397.48 381.25,400.00C383.24,403.73 383.73,408.34 385.00,412.50C386.23,416.51 386.71,422.17 388.75,424.50C389.62,425.50 392.90,423.91 393.75,422.50C395.81,419.08 396.36,414.20 397.50,410.00C398.86,405.03 399.17,399.45 401.25,395.00C402.09,393.20 404.41,391.58 406.25,391.25C408.16,390.91 410.55,392.13 412.50,393.00C414.30,393.80 416.52,397.14 417.50,396.25C419.44,394.48 420.10,388.78 421.25,385.00C423.02,379.20 424.40,373.27 426.25,367.50C427.74,362.86 429.19,358.13 431.25,353.75C432.52,351.05 434.99,348.95 436.25,346.25C437.91,342.70 438.22,338.38 440.00,335.00C440.72,333.63 442.43,332.00 443.75,332.00C445.35,332.00 447.26,333.77 448.75,335.00C451.01,336.86 452.92,341.02 455.00,341.25C456.67,341.44 458.29,337.87 460.00,336.25C461.20,335.12 462.93,332.32 463.75,333.00C465.43,334.40 466.13,339.39 467.50,342.50C468.63,345.05 469.58,349.67 471.25,350.00C472.91,350.33 476.23,343.55 477.50,344.50C479.56,346.05 480.00,353.17 481.25,357.50C482.09,360.42 482.11,364.00 483.75,366.25C485.02,368.00 488.31,370.06 490.00,369.50C492.06,368.81 493.37,364.86 495.00,362.50C496.71,360.03 497.93,356.96 500.00,355.00C501.02,354.04 503.24,353.12 504.25,353.75C505.91,354.79 507.28,357.70 508.00,360.00C510.03,366.45 510.82,373.38 512.50,380.00C513.99,385.88 515.54,391.78 517.50,397.50C518.45,400.28 519.72,403.03 521.25,405.50C522.05,406.78 524.03,409.62 524.50,408.75C525.94,406.12 526.55,399.63 527.00,395.00C527.97,385.05 528.20,375.00 528.75,365.00C529.20,356.67 529.50,348.33 530.00,340.00C530.75,327.50 531.45,314.97 532.50,302.50C532.70,300.14 533.47,297.85 533.75,295.50C534.47,289.52 534.50,283.41 535.50,277.50C535.91,275.07 536.72,271.24 538.00,270.50C538.89,269.99 541.12,272.34 542.00,273.75C543.62,276.34 544.37,279.57 545.50,282.50C546.62,285.40 547.30,288.57 548.75,291.25C549.46,292.57 550.94,294.50 552.00,294.50C553.02,294.50 553.79,292.01 555.00,291.25C556.45,290.34 558.31,289.58 560.00,289.50C561.64,289.42 563.78,289.77 565.00,290.75C566.28,291.77 566.95,293.81 567.50,295.50C569.03,300.22 570.32,305.10 571.25,310.00C572.82,318.27 573.75,326.67 575.00,335.00C576.25,343.33 576.81,351.91 578.75,360.00C579.31,362.33 581.25,364.17 582.50,366.25C583.75,368.33 585.64,370.19 586.25,372.50C587.73,378.11 587.70,384.21 588.75,390.00C589.36,393.38 589.72,397.56 591.25,400.00C591.81,400.89 593.90,400.44 595.00,400.00C596.40,399.44 598.11,396.23 598.75,397.00C600.19,398.73 600.75,403.94 601.25,407.50C602.42,415.78 602.55,424.23 603.75,432.50C604.22,435.73 604.94,440.96 606.25,442.00C607.03,442.62 609.12,439.22 610.00,437.50C612.03,433.55 613.33,429.17 615.00,425.00C616.67,420.83 618.37,416.68 620.00,412.50C621.29,409.18 622.20,405.66 623.75,402.50C624.45,401.08 625.96,398.41 626.75,398.75C627.88,399.24 628.65,402.89 629.50,405.00C630.73,408.06 631.87,414.25 633.00,414.25C634.12,414.25 635.02,408.02 636.25,405.00C637.36,402.27 638.28,399.17 640.00,397.00C640.78,396.01 642.53,395.42 643.75,395.50C645.03,395.59 646.66,396.43 647.50,397.50C649.16,399.60 649.72,402.70 651.25,405.00C652.22,406.45 653.65,408.52 655.00,408.75C656.15,408.94 657.40,406.84 658.75,406.25C659.90,405.75 661.44,405.05 662.50,405.50C664.36,406.30 665.98,408.36 667.50,410.00C669.31,411.95 670.54,414.53 672.50,416.25C673.87,417.45 675.77,418.11 677.50,418.75C678.68,419.19 680.44,418.69 681.25,419.50C682.53,420.78 683.27,423.05 683.75,425.00C685.36,431.55 686.43,438.30 687.50,445.00C688.93,453.97 690.18,462.98 691.25,472.00C692.26,480.48 692.75,489.02 693.75,497.50C694.83,506.69 695.75,515.95 697.50,525.00C698.25,528.87 699.40,533.04 701.25,536.25C701.90,537.37 703.79,538.17 705.00,538.00C706.71,537.76 708.33,536.00 710.00,535.00C711.67,534.00 713.64,531.61 715.00,532.00C716.55,532.44 717.78,535.51 718.75,537.50C720.70,541.51 721.83,545.95 723.75,550.00C725.58,553.87 727.12,558.63 730.00,561.25C731.70,562.80 735.16,561.65 737.50,562.50C739.74,563.32 741.58,565.19 743.75,566.25C745.33,567.02 747.20,568.34 748.75,568.00C750.95,567.51 753.18,565.45 755.00,563.75C756.93,561.95 759.10,559.95 760.00,557.50C762.02,552.03 762.65,545.86 763.75,540.00C765.15,532.53 765.67,524.84 767.50,517.50C768.58,513.17 770.58,509.05 772.50,505.00C774.33,501.13 776.83,497.58 778.75,493.75C781.00,489.25 782.55,484.36 785.00,480.00C786.30,477.69 788.09,475.56 790.00,473.75C791.42,472.40 793.16,471.12 795.00,470.50C797.33,469.71 800.05,469.35 802.50,469.50C804.22,469.60 805.86,470.60 807.50,471.25C808.36,471.60 809.68,473.20 810.00,472.50C811.76,468.62 812.59,462.52 813.75,457.50C815.09,451.69 815.77,445.67 817.50,440.00C818.52,436.67 820.64,430.73 822.00,430.50C823.14,430.31 824.09,435.97 825.00,438.75C826.76,444.14 827.94,449.74 830.00,455.00C831.69,459.32 834.03,463.41 836.25,467.50C838.19,471.08 840.17,476.96 842.50,478.00C843.92,478.63 845.79,474.29 847.50,472.50C849.13,470.79 850.63,468.88 852.50,467.50C853.80,466.54 855.50,466.17 857.00,465.50" fill="none" stroke="#9aadc4" stroke-width="1.25" stroke-dasharray="4,3" clip-path="url(#dn)"/>
<path d="M50.50,220.50C52.42,218.25 55.02,216.38 56.25,213.75C58.61,208.71 59.46,202.87 61.25,197.50C62.38,194.12 63.64,188.26 65.00,187.50C65.89,187.01 67.39,191.54 68.00,193.75C69.47,199.04 70.01,204.62 71.25,210.00C73.18,218.37 74.72,226.92 77.50,235.00C79.31,240.26 82.41,245.05 85.00,250.00C86.99,253.80 88.38,258.54 91.25,261.25C92.97,262.87 96.55,263.60 98.75,263.00C101.13,262.35 103.92,259.95 105.00,257.50C107.67,251.45 108.65,244.23 110.00,237.50C111.99,227.57 112.87,217.38 115.00,207.50C115.78,203.88 117.43,197.22 118.75,197.00C119.93,196.80 121.14,203.22 122.50,206.25C123.64,208.80 124.43,211.83 126.25,213.75C127.76,215.33 130.30,216.15 132.50,216.75C134.89,217.40 138.58,215.86 140.00,217.50C142.75,220.69 142.67,227.05 145.00,231.25C146.84,234.55 149.94,237.13 152.50,240.00C154.78,242.55 157.86,248.23 159.50,247.50C161.61,246.56 162.87,239.30 163.75,235.00C165.95,224.30 166.99,213.32 168.75,202.50C169.91,195.40 170.94,183.07 172.50,181.25C173.44,180.15 175.00,189.58 176.25,193.75C177.50,197.92 178.09,205.30 180.00,206.25C181.43,206.96 184.66,198.35 186.25,198.75C187.99,199.19 188.95,205.35 190.00,208.75C192.70,217.44 194.69,226.35 197.50,235.00C199.69,241.77 202.68,248.27 205.00,255.00C206.85,260.36 207.96,266.00 210.00,271.25C210.88,273.50 212.73,278.23 213.75,277.50C215.64,276.15 217.83,269.37 218.75,265.00C221.16,253.53 221.69,241.59 223.75,230.00C224.61,225.17 226.14,216.20 227.50,215.75C228.64,215.37 230.24,223.52 231.25,227.50C233.57,236.60 234.99,245.96 237.50,255.00C239.16,260.96 241.07,267.13 243.75,272.50C244.40,273.80 246.55,275.66 247.50,275.00C249.89,273.33 251.47,265.96 253.75,265.50C255.63,265.12 258.61,273.27 260.00,272.50C261.94,271.43 262.61,264.20 263.75,260.00C265.11,255.03 265.87,249.88 267.50,245.00C269.21,239.88 272.27,235.18 273.75,230.00C275.60,223.51 275.88,216.57 277.50,210.00C278.38,206.40 279.98,199.97 281.25,199.50C282.23,199.14 283.27,204.82 284.25,207.50C285.52,210.99 286.60,217.25 288.00,218.00C288.94,218.50 289.75,213.16 291.25,211.25C292.50,209.66 294.46,207.81 296.25,207.50C297.79,207.23 299.69,208.64 301.25,209.50C303.02,210.47 305.30,211.31 306.25,213.00C308.21,216.48 309.22,220.90 310.00,225.00C311.72,234.06 312.23,243.38 313.75,252.50C315.15,260.88 316.52,269.40 318.75,277.50C319.27,279.40 320.49,281.72 322.00,282.50C323.40,283.22 326.36,283.07 327.50,282.00C329.03,280.57 329.51,277.42 330.00,275.00C331.34,268.42 331.59,261.54 333.00,255.00C333.42,253.04 334.71,249.16 335.50,249.50C336.63,249.99 338.05,254.72 338.75,257.50C340.39,264.05 341.27,270.83 342.50,277.50C343.60,283.50 344.60,289.51 345.75,295.50C346.44,299.10 346.86,302.82 348.00,306.25C348.69,308.32 349.79,310.45 351.25,312.00C352.54,313.37 354.76,313.77 356.25,315.00C358.51,316.86 360.47,319.11 362.50,321.25C365.06,323.95 367.26,327.04 370.00,329.50C371.43,330.79 373.67,332.83 375.00,332.50C376.33,332.17 377.55,329.36 378.00,327.50C379.38,321.86 379.68,315.84 380.50,310.00C381.18,305.17 381.82,300.33 382.50,295.50C383.57,287.83 384.31,280.09 385.75,272.50C386.56,268.26 388.09,260.46 389.25,260.00C390.18,259.63 391.19,266.64 392.00,270.00C393.36,275.64 392.97,282.72 395.75,287.00C397.30,289.39 401.94,288.93 405.00,290.00C408.36,291.18 411.66,292.52 415.00,293.75C416.66,294.36 418.49,294.64 420.00,295.50C421.41,296.31 422.87,297.40 423.75,298.75C425.20,300.98 425.73,303.86 427.00,306.25C427.81,307.77 429.15,310.69 430.00,310.50C430.99,310.28 431.95,306.92 432.50,305.00C433.37,301.92 433.67,298.67 434.25,295.50C435.34,289.50 436.16,283.44 437.50,277.50C438.49,273.11 439.46,268.47 441.25,264.50C441.79,263.30 443.57,261.63 444.50,262.00C446.07,262.63 447.81,265.41 448.75,267.50C450.89,272.25 451.76,277.64 453.75,282.50C455.10,285.80 456.52,289.49 458.75,292.00C459.85,293.24 462.02,293.53 463.75,293.75C466.60,294.11 469.64,294.16 472.50,293.75C475.47,293.33 478.62,292.57 481.25,291.25C482.78,290.48 484.18,289.03 485.00,287.50C487.09,283.61 488.45,279.21 490.00,275.00C491.37,271.29 492.11,267.30 493.75,263.75C494.61,261.88 496.35,258.56 497.50,258.75C498.85,258.97 499.86,263.01 501.25,265.00C502.36,266.60 503.47,268.41 505.00,269.50C506.39,270.49 508.47,271.56 510.00,271.25C511.80,270.89 513.80,269.14 515.00,267.50C517.14,264.56 518.02,260.62 520.00,257.50C521.19,255.62 523.36,252.12 524.50,252.50C525.86,252.95 526.59,257.47 527.50,260.00C528.68,263.30 529.57,269.53 530.75,270.00C531.66,270.36 533.11,265.10 533.75,262.50C534.95,257.60 535.13,252.43 536.25,247.50C537.21,243.27 538.27,238.91 540.00,235.00C540.77,233.24 542.67,232.12 543.75,230.50C545.17,228.37 546.12,225.91 547.50,223.75C548.62,222.00 550.09,218.75 551.25,218.75C552.34,218.75 553.51,221.96 554.25,223.75C555.76,227.38 556.25,231.54 558.00,235.00C559.00,236.96 561.31,238.12 562.50,240.00C564.48,243.12 566.12,246.55 567.50,250.00C569.45,254.88 571.13,259.92 572.50,265.00C574.05,270.75 574.92,276.69 576.25,282.50C577.25,286.85 578.34,291.19 579.50,295.50C581.26,302.02 583.36,308.45 585.00,315.00C586.45,320.78 587.35,326.70 588.75,332.50C589.60,336.04 590.15,340.18 591.75,343.00C592.23,343.85 594.09,343.89 595.00,343.50C596.42,342.89 598.04,341.50 598.75,340.00C600.54,336.17 600.95,331.54 602.50,327.50C603.45,325.04 604.98,320.73 606.25,320.50C607.31,320.31 608.79,324.18 609.50,326.25C611.29,331.51 612.09,337.16 613.75,342.50C615.59,348.41 617.36,354.46 620.00,360.00C621.53,363.21 624.27,365.76 626.25,368.75C628.02,371.43 629.16,375.21 631.25,377.00C632.08,377.71 633.78,376.60 635.00,376.25C636.69,375.77 638.41,374.30 640.00,374.50C641.75,374.72 643.69,376.13 645.00,377.50C647.02,379.63 648.28,382.54 650.00,385.00C651.19,386.71 652.15,389.60 653.75,390.00C655.48,390.43 658.17,387.09 660.00,387.50C661.92,387.93 663.53,390.67 665.00,392.50C666.87,394.83 668.09,397.71 670.00,400.00C671.42,401.71 673.10,403.46 675.00,404.50C676.44,405.29 679.05,404.33 680.00,405.50C681.88,407.83 682.70,411.73 683.50,415.00C685.20,421.90 686.26,428.98 687.50,436.00C688.85,443.65 689.83,451.37 691.25,459.00C692.50,465.70 693.59,472.50 695.50,479.00C696.50,482.41 698.06,487.05 700.00,488.75C700.81,489.46 702.91,487.45 703.75,486.25C705.83,483.28 706.96,479.52 708.75,476.25C710.29,473.43 711.48,469.51 713.75,468.00C715.23,467.01 718.65,467.55 720.00,468.75C721.73,470.30 722.16,473.70 723.00,476.25C724.49,480.78 724.75,486.27 727.00,490.00C727.92,491.52 730.59,491.69 732.50,492.00C735.76,492.53 739.24,491.94 742.50,492.50C745.07,492.94 747.80,493.68 750.00,495.00C751.97,496.18 753.56,498.15 755.00,500.00C756.48,501.90 757.42,504.22 758.75,506.25C759.50,507.39 760.59,509.83 761.25,509.50C762.26,509.00 763.15,505.75 763.75,503.75C765.23,498.83 765.81,493.60 767.50,488.75C769.15,484.01 771.59,479.54 773.75,475.00C775.75,470.79 777.83,466.62 780.00,462.50C782.00,458.70 783.68,454.59 786.25,451.25C787.85,449.17 790.15,447.32 792.50,446.25C794.73,445.24 797.52,445.00 800.00,445.00C801.68,445.00 803.44,445.58 805.00,446.25C806.36,446.83 808.06,449.55 808.75,448.75C810.56,446.64 811.43,441.30 812.50,437.50C814.35,430.89 815.40,424.01 817.50,417.50C818.57,414.18 820.55,408.48 822.00,408.00C823.05,407.65 824.26,412.58 825.00,415.00C826.51,419.91 827.05,425.19 828.75,430.00C829.55,432.27 830.99,434.37 832.50,436.25C834.33,438.53 836.50,440.63 838.75,442.50C840.00,443.54 841.97,445.51 843.00,445.00C844.47,444.26 844.96,440.69 846.25,438.75C847.29,437.19 848.46,435.07 850.00,434.50C851.38,433.99 853.33,435.20 855.00,435.50C855.66,435.62 856.33,435.67 857.00,435.75" fill="none" stroke="#e8383e" stroke-width="2.9" stroke-linejoin="round" stroke-linecap="round" clip-path="url(#up)"/>
<path d="M50.50,220.50C52.42,218.25 55.02,216.38 56.25,213.75C58.61,208.71 59.46,202.87 61.25,197.50C62.38,194.12 63.64,188.26 65.00,187.50C65.89,187.01 67.39,191.54 68.00,193.75C69.47,199.04 70.01,204.62 71.25,210.00C73.18,218.37 74.72,226.92 77.50,235.00C79.31,240.26 82.41,245.05 85.00,250.00C86.99,253.80 88.38,258.54 91.25,261.25C92.97,262.87 96.55,263.60 98.75,263.00C101.13,262.35 103.92,259.95 105.00,257.50C107.67,251.45 108.65,244.23 110.00,237.50C111.99,227.57 112.87,217.38 115.00,207.50C115.78,203.88 117.43,197.22 118.75,197.00C119.93,196.80 121.14,203.22 122.50,206.25C123.64,208.80 124.43,211.83 126.25,213.75C127.76,215.33 130.30,216.15 132.50,216.75C134.89,217.40 138.58,215.86 140.00,217.50C142.75,220.69 142.67,227.05 145.00,231.25C146.84,234.55 149.94,237.13 152.50,240.00C154.78,242.55 157.86,248.23 159.50,247.50C161.61,246.56 162.87,239.30 163.75,235.00C165.95,224.30 166.99,213.32 168.75,202.50C169.91,195.40 170.94,183.07 172.50,181.25C173.44,180.15 175.00,189.58 176.25,193.75C177.50,197.92 178.09,205.30 180.00,206.25C181.43,206.96 184.66,198.35 186.25,198.75C187.99,199.19 188.95,205.35 190.00,208.75C192.70,217.44 194.69,226.35 197.50,235.00C199.69,241.77 202.68,248.27 205.00,255.00C206.85,260.36 207.96,266.00 210.00,271.25C210.88,273.50 212.73,278.23 213.75,277.50C215.64,276.15 217.83,269.37 218.75,265.00C221.16,253.53 221.69,241.59 223.75,230.00C224.61,225.17 226.14,216.20 227.50,215.75C228.64,215.37 230.24,223.52 231.25,227.50C233.57,236.60 234.99,245.96 237.50,255.00C239.16,260.96 241.07,267.13 243.75,272.50C244.40,273.80 246.55,275.66 247.50,275.00C249.89,273.33 251.47,265.96 253.75,265.50C255.63,265.12 258.61,273.27 260.00,272.50C261.94,271.43 262.61,264.20 263.75,260.00C265.11,255.03 265.87,249.88 267.50,245.00C269.21,239.88 272.27,235.18 273.75,230.00C275.60,223.51 275.88,216.57 277.50,210.00C278.38,206.40 279.98,199.97 281.25,199.50C282.23,199.14 283.27,204.82 284.25,207.50C285.52,210.99 286.60,217.25 288.00,218.00C288.94,218.50 289.75,213.16 291.25,211.25C292.50,209.66 294.46,207.81 296.25,207.50C297.79,207.23 299.69,208.64 301.25,209.50C303.02,210.47 305.30,211.31 306.25,213.00C308.21,216.48 309.22,220.90 310.00,225.00C311.72,234.06 312.23,243.38 313.75,252.50C315.15,260.88 316.52,269.40 318.75,277.50C319.27,279.40 320.49,281.72 322.00,282.50C323.40,283.22 326.36,283.07 327.50,282.00C329.03,280.57 329.51,277.42 330.00,275.00C331.34,268.42 331.59,261.54 333.00,255.00C333.42,253.04 334.71,249.16 335.50,249.50C336.63,249.99 338.05,254.72 338.75,257.50C340.39,264.05 341.27,270.83 342.50,277.50C343.60,283.50 344.60,289.51 345.75,295.50C346.44,299.10 346.86,302.82 348.00,306.25C348.69,308.32 349.79,310.45 351.25,312.00C352.54,313.37 354.76,313.77 356.25,315.00C358.51,316.86 360.47,319.11 362.50,321.25C365.06,323.95 367.26,327.04 370.00,329.50C371.43,330.79 373.67,332.83 375.00,332.50C376.33,332.17 377.55,329.36 378.00,327.50C379.38,321.86 379.68,315.84 380.50,310.00C381.18,305.17 381.82,300.33 382.50,295.50C383.57,287.83 384.31,280.09 385.75,272.50C386.56,268.26 388.09,260.46 389.25,260.00C390.18,259.63 391.19,266.64 392.00,270.00C393.36,275.64 392.97,282.72 395.75,287.00C397.30,289.39 401.94,288.93 405.00,290.00C408.36,291.18 411.66,292.52 415.00,293.75C416.66,294.36 418.49,294.64 420.00,295.50C421.41,296.31 422.87,297.40 423.75,298.75C425.20,300.98 425.73,303.86 427.00,306.25C427.81,307.77 429.15,310.69 430.00,310.50C430.99,310.28 431.95,306.92 432.50,305.00C433.37,301.92 433.67,298.67 434.25,295.50C435.34,289.50 436.16,283.44 437.50,277.50C438.49,273.11 439.46,268.47 441.25,264.50C441.79,263.30 443.57,261.63 444.50,262.00C446.07,262.63 447.81,265.41 448.75,267.50C450.89,272.25 451.76,277.64 453.75,282.50C455.10,285.80 456.52,289.49 458.75,292.00C459.85,293.24 462.02,293.53 463.75,293.75C466.60,294.11 469.64,294.16 472.50,293.75C475.47,293.33 478.62,292.57 481.25,291.25C482.78,290.48 484.18,289.03 485.00,287.50C487.09,283.61 488.45,279.21 490.00,275.00C491.37,271.29 492.11,267.30 493.75,263.75C494.61,261.88 496.35,258.56 497.50,258.75C498.85,258.97 499.86,263.01 501.25,265.00C502.36,266.60 503.47,268.41 505.00,269.50C506.39,270.49 508.47,271.56 510.00,271.25C511.80,270.89 513.80,269.14 515.00,267.50C517.14,264.56 518.02,260.62 520.00,257.50C521.19,255.62 523.36,252.12 524.50,252.50C525.86,252.95 526.59,257.47 527.50,260.00C528.68,263.30 529.57,269.53 530.75,270.00C531.66,270.36 533.11,265.10 533.75,262.50C534.95,257.60 535.13,252.43 536.25,247.50C537.21,243.27 538.27,238.91 540.00,235.00C540.77,233.24 542.67,232.12 543.75,230.50C545.17,228.37 546.12,225.91 547.50,223.75C548.62,222.00 550.09,218.75 551.25,218.75C552.34,218.75 553.51,221.96 554.25,223.75C555.76,227.38 556.25,231.54 558.00,235.00C559.00,236.96 561.31,238.12 562.50,240.00C564.48,243.12 566.12,246.55 567.50,250.00C569.45,254.88 571.13,259.92 572.50,265.00C574.05,270.75 574.92,276.69 576.25,282.50C577.25,286.85 578.34,291.19 579.50,295.50C581.26,302.02 583.36,308.45 585.00,315.00C586.45,320.78 587.35,326.70 588.75,332.50C589.60,336.04 590.15,340.18 591.75,343.00C592.23,343.85 594.09,343.89 595.00,343.50C596.42,342.89 598.04,341.50 598.75,340.00C600.54,336.17 600.95,331.54 602.50,327.50C603.45,325.04 604.98,320.73 606.25,320.50C607.31,320.31 608.79,324.18 609.50,326.25C611.29,331.51 612.09,337.16 613.75,342.50C615.59,348.41 617.36,354.46 620.00,360.00C621.53,363.21 624.27,365.76 626.25,368.75C628.02,371.43 629.16,375.21 631.25,377.00C632.08,377.71 633.78,376.60 635.00,376.25C636.69,375.77 638.41,374.30 640.00,374.50C641.75,374.72 643.69,376.13 645.00,377.50C647.02,379.63 648.28,382.54 650.00,385.00C651.19,386.71 652.15,389.60 653.75,390.00C655.48,390.43 658.17,387.09 660.00,387.50C661.92,387.93 663.53,390.67 665.00,392.50C666.87,394.83 668.09,397.71 670.00,400.00C671.42,401.71 673.10,403.46 675.00,404.50C676.44,405.29 679.05,404.33 680.00,405.50C681.88,407.83 682.70,411.73 683.50,415.00C685.20,421.90 686.26,428.98 687.50,436.00C688.85,443.65 689.83,451.37 691.25,459.00C692.50,465.70 693.59,472.50 695.50,479.00C696.50,482.41 698.06,487.05 700.00,488.75C700.81,489.46 702.91,487.45 703.75,486.25C705.83,483.28 706.96,479.52 708.75,476.25C710.29,473.43 711.48,469.51 713.75,468.00C715.23,467.01 718.65,467.55 720.00,468.75C721.73,470.30 722.16,473.70 723.00,476.25C724.49,480.78 724.75,486.27 727.00,490.00C727.92,491.52 730.59,491.69 732.50,492.00C735.76,492.53 739.24,491.94 742.50,492.50C745.07,492.94 747.80,493.68 750.00,495.00C751.97,496.18 753.56,498.15 755.00,500.00C756.48,501.90 757.42,504.22 758.75,506.25C759.50,507.39 760.59,509.83 761.25,509.50C762.26,509.00 763.15,505.75 763.75,503.75C765.23,498.83 765.81,493.60 767.50,488.75C769.15,484.01 771.59,479.54 773.75,475.00C775.75,470.79 777.83,466.62 780.00,462.50C782.00,458.70 783.68,454.59 786.25,451.25C787.85,449.17 790.15,447.32 792.50,446.25C794.73,445.24 797.52,445.00 800.00,445.00C801.68,445.00 803.44,445.58 805.00,446.25C806.36,446.83 808.06,449.55 808.75,448.75C810.56,446.64 811.43,441.30 812.50,437.50C814.35,430.89 815.40,424.01 817.50,417.50C818.57,414.18 820.55,408.48 822.00,408.00C823.05,407.65 824.26,412.58 825.00,415.00C826.51,419.91 827.05,425.19 828.75,430.00C829.55,432.27 830.99,434.37 832.50,436.25C834.33,438.53 836.50,440.63 838.75,442.50C840.00,443.54 841.97,445.51 843.00,445.00C844.47,444.26 844.96,440.69 846.25,438.75C847.29,437.19 848.46,435.07 850.00,434.50C851.38,433.99 853.33,435.20 855.00,435.50C855.66,435.62 856.33,435.67 857.00,435.75" fill="none" stroke="#45a8dc" stroke-width="2.9" stroke-linejoin="round" stroke-linecap="round" clip-path="url(#dn)"/>
<g font-size="10.5" font-weight="bold" text-anchor="middle" fill="#111" stroke="#fff" stroke-width="2.6" stroke-linejoin="round" paint-order="stroke"><text x="125.8" y="649.5">0.1</text><text x="132.5" y="626.6">0.3</text><text x="207.1" y="649.5">0.1</text><text x="315.6" y="649.5">0.1</text><text x="519.0" y="649.5">0.1</text><text x="539.3" y="632.6">0.3</text><text x="552.8" y="563.5">1.1</text><text x="559.6" y="649.5">0.1</text><text x="566.4" y="626.7">0.3</text><text x="580.0" y="600.2">0.6</text><text x="600.3" y="622.0">0.4</text><text x="613.9" y="637.0">0.2</text><text x="620.6" y="622.0">0.4</text><text x="641.0" y="572.2">0.9</text><text x="647.8" y="503.4">1.8</text><text x="654.5" y="481.9">2.0</text><text x="661.3" y="456.1">2.3</text><text x="668.1" y="541.9">1.3</text><text x="674.9" y="572.2">0.9</text><text x="681.7" y="460.6">2.3</text><text x="688.4" y="428.1">2.6</text><text x="695.2" y="547.6">1.2</text><text x="702.0" y="631.1">0.3</text><text x="708.8" y="649.4">0.1</text><text x="776.6" y="572.8">0.9</text><text x="783.3" y="551.1">1.2</text><text x="790.1" y="595.6">0.7</text><text x="796.9" y="611.0">0.5</text><text x="810.5" y="631.9">0.3</text><text x="830.8" y="649.4">0.1</text><text x="852.4" y="643.1">0.1</text></g>
<g><path d="M50.05,676.30L75.37,689.59M50.05,676.30L55.64,667.37" fill="none" stroke="#000" stroke-width="2.2" stroke-linecap="square"/><path d="M78.91,691.45L73.02,684.18L69.58,690.73Z" fill="#000"/><path d="M68.80,681.39L97.18,684.88M72.37,681.83L73.85,676.37" fill="none" stroke="#000" stroke-width="2.2" stroke-linecap="square"/><path d="M101.15,685.36L93.07,680.64L92.17,687.99Z" fill="#000"/><path d="M90.38,676.99L116.36,688.95M93.65,678.50L96.72,673.75" fill="none" stroke="#000" stroke-width="2.2" stroke-linecap="square"/><path d="M120.00,690.62L113.73,683.66L110.64,690.38Z" fill="#000"/><path d="M109.40,682.16L137.93,684.16M109.40,682.16L110.93,671.75" fill="none" stroke="#000" stroke-width="2.2" stroke-linecap="square"/><path d="M141.92,684.44L133.60,680.15L133.08,687.53Z" fill="#000"/><path d="M129.84,681.13L158.16,685.11M129.84,681.13L132.10,670.85M134.40,681.77L135.97,676.34" fill="none" stroke="#000" stroke-width="2.2" stroke-linecap="square"/><path d="M162.13,685.67L154.12,680.81L153.09,688.14Z" fill="#000"/><path d="M150.84,678.37L177.89,687.68M150.84,678.37L155.02,668.70" fill="none" stroke="#000" stroke-width="2.2" stroke-linecap="square"/><path d="M181.67,688.98L174.74,682.68L172.33,689.68Z" fill="#000"/><path d="M175.25,672.20L194.46,693.39M175.25,672.20L183.56,665.74M178.34,675.61L183.02,672.44" fill="none" stroke="#000" stroke-width="2.2" stroke-linecap="square"/><path d="M197.15,696.35L194.11,687.49L188.63,692.46Z" fill="#000"/><path d="M196.02,671.82L214.40,693.73M196.02,671.82L204.57,665.69M198.97,675.35L203.78,672.36" fill="none" stroke="#000" stroke-width="2.2" stroke-linecap="square"/><path d="M216.97,696.80L214.28,687.83L208.61,692.59Z" fill="#000"/><path d="M213.73,674.68L237.16,691.09M213.73,674.68L220.41,666.54" fill="none" stroke="#000" stroke-width="2.2" stroke-linecap="square"/><path d="M240.44,693.38L235.52,685.42L231.27,691.48Z" fill="#000"/><path d="M233.85,675.00L257.70,690.79M233.85,675.00L238.60,669.27" fill="none" stroke="#000" stroke-width="2.2" stroke-linecap="square"/><path d="M261.04,693.00L255.91,685.16L251.82,691.34Z" fill="#000"/><path d="M252.59,678.19L279.52,687.84M255.98,679.41L258.62,674.41" fill="none" stroke="#000" stroke-width="2.2" stroke-linecap="square"/><path d="M283.28,689.18L276.43,682.80L273.94,689.77Z" fill="#000"/><path d="M272.07,682.68L300.65,683.68M272.07,682.68L273.24,672.22M276.67,682.84L277.83,672.38M281.26,683.00L282.26,677.43" fill="none" stroke="#000" stroke-width="2.2" stroke-linecap="square"/><path d="M304.65,683.82L296.18,679.82L295.93,687.22Z" fill="#000"/><path d="M293.68,677.16L319.81,688.79M293.68,677.16L298.68,667.89M297.88,679.03L300.89,674.24" fill="none" stroke="#000" stroke-width="2.2" stroke-linecap="square"/><path d="M323.46,690.42L317.11,683.54L314.10,690.30Z" fill="#000"/><path d="M320.16,670.34L334.46,695.11M320.16,670.34L329.65,665.78" fill="none" stroke="#000" stroke-width="2.2" stroke-linecap="square"/><path d="M336.46,698.57L335.36,689.27L328.96,692.97Z" fill="#000"/><path d="M338.38,671.82L356.76,693.73M338.38,671.82L346.94,665.69" fill="none" stroke="#000" stroke-width="2.2" stroke-linecap="square"/><path d="M359.33,696.80L356.64,687.83L350.97,692.59Z" fill="#000"/><path d="M354.16,678.54L381.32,687.52M354.16,678.54L358.22,668.82" fill="none" stroke="#000" stroke-width="2.2" stroke-linecap="square"/><path d="M385.11,688.77L378.11,682.56L375.79,689.59Z" fill="#000"/><path d="M374.00,680.47L402.11,685.73" fill="none" stroke="#000" stroke-width="2.2" stroke-linecap="square"/><path d="M406.05,686.47L398.27,681.25L396.91,688.52Z" fill="#000"/><path d="M394.14,684.49L422.63,682.00M397.73,684.18L398.04,678.53" fill="none" stroke="#000" stroke-width="2.2" stroke-linecap="square"/><path d="M426.62,681.65L417.73,678.72L418.37,686.09Z" fill="#000"/><path d="M414.42,683.02L443.02,683.37M414.42,683.02L415.35,672.53M419.02,683.07L419.89,677.48" fill="none" stroke="#000" stroke-width="2.2" stroke-linecap="square"/><path d="M447.02,683.42L438.47,679.61L438.38,687.01Z" fill="#000"/><path d="M434.82,681.83L463.30,684.47M434.82,681.83L436.59,671.45" fill="none" stroke="#000" stroke-width="2.2" stroke-linecap="square"/><path d="M467.28,684.84L459.06,680.36L458.38,687.73Z" fill="#000"/><path d="M455.10,683.46L483.70,682.96M458.70,683.40L459.40,677.78" fill="none" stroke="#000" stroke-width="2.2" stroke-linecap="square"/><path d="M487.70,682.89L479.03,679.34L479.16,686.74Z" fill="#000"/><path d="M475.44,683.02L504.03,683.37M475.44,683.02L476.36,672.53" fill="none" stroke="#000" stroke-width="2.2" stroke-linecap="square"/><path d="M508.03,683.42L499.48,679.61L499.39,687.01Z" fill="#000"/><path d="M495.77,683.38L524.37,683.03M495.77,683.38L496.45,672.87" fill="none" stroke="#000" stroke-width="2.2" stroke-linecap="square"/><path d="M528.37,682.98L519.73,679.39L519.82,686.79Z" fill="#000"/><path d="M516.31,685.63L544.53,680.95M516.31,685.63L515.38,675.14" fill="none" stroke="#000" stroke-width="2.2" stroke-linecap="square"/><path d="M548.47,680.30L539.38,678.06L540.59,685.36Z" fill="#000"/><path d="M536.59,681.18L564.92,685.07M536.59,681.18L538.80,670.89M541.14,681.81L542.70,676.37" fill="none" stroke="#000" stroke-width="2.2" stroke-linecap="square"/><path d="M568.88,685.61L560.87,680.78L559.86,688.11Z" fill="#000"/><path d="M557.38,679.03L584.83,687.06M557.38,679.03L561.10,669.18M561.80,680.32L564.14,675.17" fill="none" stroke="#000" stroke-width="2.2" stroke-linecap="square"/><path d="M588.67,688.18L581.46,682.22L579.38,689.32Z" fill="#000"/><path d="M583.60,670.93L599.72,694.56M585.63,673.91L590.71,671.41" fill="none" stroke="#000" stroke-width="2.2" stroke-linecap="square"/><path d="M601.98,697.86L600.19,688.67L594.07,692.84Z" fill="#000"/><path d="M607.06,669.31L617.17,696.06" fill="none" stroke="#000" stroke-width="2.2" stroke-linecap="square"/><path d="M618.58,699.80L619.01,690.45L612.08,693.07Z" fill="#000"/><path d="M647.50,683.20L618.90,683.20M643.90,683.20L643.10,688.80" fill="none" stroke="#000" stroke-width="2.2" stroke-linecap="square"/><path d="M614.90,683.20L623.50,686.90L623.50,679.50Z" fill="#000"/><path d="M667.83,682.94L639.24,683.44M667.83,682.94L667.22,693.45" fill="none" stroke="#000" stroke-width="2.2" stroke-linecap="square"/><path d="M635.24,683.51L643.90,687.06L643.77,679.66Z" fill="#000"/><path d="M688.15,682.42L659.59,683.92M688.15,682.42L687.90,692.95" fill="none" stroke="#000" stroke-width="2.2" stroke-linecap="square"/><path d="M655.60,684.13L664.38,687.37L663.99,679.98Z" fill="#000"/><path d="M708.40,681.39L680.01,684.88M704.83,681.83L704.71,687.48" fill="none" stroke="#000" stroke-width="2.2" stroke-linecap="square"/><path d="M676.04,685.36L685.03,687.99L684.13,680.64Z" fill="#000"/><path d="M705.80,670.82L721.59,694.67M705.80,670.82L715.00,665.69" fill="none" stroke="#000" stroke-width="2.2" stroke-linecap="square"/><path d="M723.79,698.00L722.13,688.79L715.96,692.87Z" fill="#000"/><path d="M726.91,670.34L741.21,695.11M726.91,670.34L736.40,665.78M729.21,674.32L734.46,672.22" fill="none" stroke="#000" stroke-width="2.2" stroke-linecap="square"/><path d="M743.21,698.57L742.11,689.27L735.71,692.97Z" fill="#000"/><path d="M743.43,673.50L765.08,692.18M743.43,673.50L750.90,666.07M746.91,676.50L754.38,669.08M750.40,679.51L754.66,675.79" fill="none" stroke="#000" stroke-width="2.2" stroke-linecap="square"/><path d="M768.11,694.80L764.02,686.38L759.18,691.98Z" fill="#000"/><path d="M760.56,679.76L788.39,686.39M760.56,679.76L763.78,669.73M765.04,680.82L767.12,675.56" fill="none" stroke="#000" stroke-width="2.2" stroke-linecap="square"/><path d="M792.28,687.31L784.77,681.72L783.05,688.92Z" fill="#000"/><path d="M780.71,680.67L808.90,685.54M780.71,680.67L783.29,670.46M785.25,681.46L786.99,676.07" fill="none" stroke="#000" stroke-width="2.2" stroke-linecap="square"/><path d="M812.84,686.22L804.99,681.11L803.73,688.40Z" fill="#000"/><path d="M801.37,679.26L828.94,686.85M801.37,679.26L804.93,669.35M805.80,680.48L808.06,675.29" fill="none" stroke="#000" stroke-width="2.2" stroke-linecap="square"/><path d="M832.80,687.91L825.49,682.06L823.52,689.20Z" fill="#000"/><path d="M822.59,676.88L848.46,689.05M822.59,676.88L827.78,667.72" fill="none" stroke="#000" stroke-width="2.2" stroke-linecap="square"/><path d="M852.08,690.76L845.88,683.75L842.73,690.44Z" fill="#000"/><path d="M843.07,676.57L868.67,689.34M843.07,676.57L848.47,667.53" fill="none" stroke="#000" stroke-width="2.2" stroke-linecap="square"/><path d="M872.25,691.12L866.20,683.97L862.90,690.59Z" fill="#000"/></g>
<text x="460.5" y="31" text-anchor="middle" font-size="27.5" fill="#333" textLength="429" lengthAdjust="spacingAndGlyphs">GFS Vienna (AT) 48.25N, 16.25E</text>
<text x="460" y="54" text-anchor="middle" font-size="17.8" fill="#666" textLength="352" lengthAdjust="spacingAndGlyphs">Init: Wed, 15Dec2021 06Z 07:44 15:57</text>
<text transform="translate(94.1,135.5) rotate(-45)" font-size="16.5" fill="#666"><tspan font-weight="bold" fill="#5c5c5c">Thu</tspan> Dec 16</text><text transform="translate(148.3,135.5) rotate(-45)" font-size="16.5" fill="#666"><tspan font-weight="bold" fill="#5c5c5c">Fri</tspan> Dec 17</text><text transform="translate(202.4,135.5) rotate(-45)" font-size="16.5" fill="#666"><tspan font-weight="bold" fill="#5c5c5c">Sat</tspan> Dec 18</text><text transform="translate(256.6,135.5) rotate(-45)" font-size="16.5" fill="#666"><tspan font-weight="bold" fill="#5c5c5c">Sun</tspan> Dec 19</text><text transform="translate(310.8,135.5) rotate(-45)" font-size="16.5" fill="#666"><tspan font-weight="bold" fill="#5c5c5c">Mon</tspan> Dec 20</text><text transform="translate(364.9,135.5) rotate(-45)" font-size="16.5" fill="#666"><tspan font-weight="bold" fill="#5c5c5c">Tue</tspan> Dec 21</text><text transform="translate(419.1,135.5) rotate(-45)" font-size="16.5" fill="#666"><tspan font-weight="bold" fill="#5c5c5c">Wed</tspan> Dec 22</text><text transform="translate(473.3,135.5) rotate(-45)" font-size="16.5" fill="#666"><tspan font-weight="bold" fill="#5c5c5c">Thu</tspan> Dec 23</text><text transform="translate(527.5,135.5) rotate(-45)" font-size="16.5" fill="#666"><tspan font-weight="bold" fill="#5c5c5c">Fri</tspan> Dec 24</text><text transform="translate(581.6,135.5) rotate(-45)" font-size="16.5" fill="#666"><tspan font-weight="bold" fill="#5c5c5c">Sat</tspan> Dec 25</text><text transform="translate(635.8,135.5) rotate(-45)" font-size="16.5" fill="#666"><tspan font-weight="bold" fill="#5c5c5c">Sun</tspan> Dec 26</text><text transform="translate(690.0,135.5) rotate(-45)" font-size="16.5" fill="#666"><tspan font-weight="bold" fill="#5c5c5c">Mon</tspan> Dec 27</text><text transform="translate(744.1,135.5) rotate(-45)" font-size="16.5" fill="#666"><tspan font-weight="bold" fill="#5c5c5c">Tue</tspan> Dec 28</text><text transform="translate(798.3,135.5) rotate(-45)" font-size="16.5" fill="#666"><tspan font-weight="bold" fill="#5c5c5c">Wed</tspan> Dec 29</text><text transform="translate(852.5,135.5) rotate(-45)" font-size="16.5" fill="#666"><tspan font-weight="bold" fill="#5c5c5c">Thu</tspan> Dec 30</text>
<g font-size="14.7" fill="#666" text-anchor="end"><text x="43.5" y="210.4">5°</text><text x="43.5" y="301.3">0°</text><text x="43.5" y="393.0">−5°</text><text x="43.5" y="484.2">−10°</text><text x="43.5" y="575.5">−15°</text><text x="43.5" y="666.8">−20°</text></g>
<g font-size="15.5" fill="#666"><text x="883" y="667.0">0</text><text x="883" y="563.5">1.2</text><text x="883" y="460.0">2.4</text><text x="883" y="356.5">3.6</text><text x="883" y="253.0">4.8</text><text x="883" y="149.5">6</text></g>
<text transform="translate(907.8,404.8) rotate(90)" text-anchor="middle" font-size="17.5" fill="#666" textLength="164.5" lengthAdjust="spacingAndGlyphs">Precipitation (mm)</text>
<g font-size="16.3" fill="#666" text-anchor="middle"><text x="57.8" y="735.6">12</text><text x="84.9" y="735.6">00</text><text x="112.0" y="735.6">12</text><text x="139.1" y="735.6">00</text><text x="166.2" y="735.6">12</text><text x="193.2" y="735.6">00</text><text x="220.3" y="735.6">12</text><text x="247.4" y="735.6">00</text><text x="274.5" y="735.6">12</text><text x="301.6" y="735.6">00</text><text x="328.7" y="735.6">12</text><text x="355.8" y="735.6">00</text><text x="382.8" y="735.6">12</text><text x="409.9" y="735.6">00</text><text x="437.0" y="735.6">12</text><text x="464.1" y="735.6">00</text><text x="491.2" y="735.6">12</text><text x="518.3" y="735.6">00</text><text x="545.3" y="735.6">12</text><text x="572.4" y="735.6">00</text><text x="599.5" y="735.6">12</text><text x="626.6" y="735.6">00</text><text x="653.7" y="735.6">12</text><text x="680.8" y="735.6">00</text><text x="707.9" y="735.6">12</text><text x="734.9" y="735.6">00</text><text x="762.0" y="735.6">12</text><text x="789.1" y="735.6">00</text><text x="816.2" y="735.6">12</text><text x="843.3" y="735.6">00</text></g>
<text x="453.5" y="764.7" text-anchor="middle" font-size="17.5" fill="#666" textLength="172" lengthAdjust="spacingAndGlyphs">Local time (UTC+1)</text>
<text x="859.6" y="760" text-anchor="end" font-size="13.8" fill="#999" textLength="120" lengthAdjust="spacingAndGlyphs">wetterzentrale.de</text>
</svg></body></html>
